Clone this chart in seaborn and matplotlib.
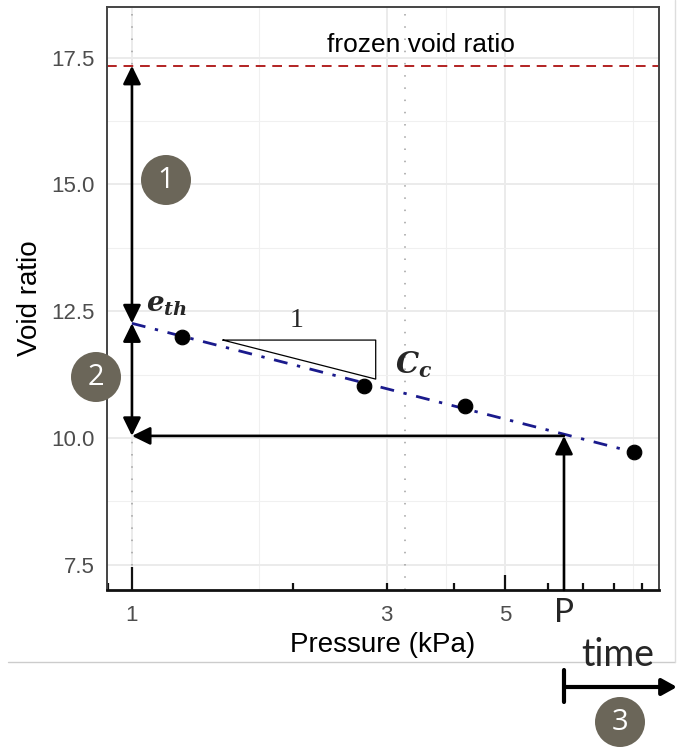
import matplotlib
matplotlib.use("Agg")
import numpy as np
import pandas as pd
import seaborn as sns
import matplotlib.pyplot as plt
import matplotlib.transforms as mtransforms
from matplotlib.patches import Circle
from matplotlib.lines import Line2D

# ---- data ----
pressure = [1.24, 2.72, 4.2, 8.7]          # kPa
void_ratio = [12.0, 11.02, 10.63, 9.72]
fit_pressure = [1.0, 8.7]                  # dash-dot fitted line ends
fit_void = [12.26, 9.72]
frozen_void = 17.34
e_th = 12.26
p_value = 6.44
e_at_p = 10.04
ref_lines = [1.0, 3.25]                    # grey dotted verticals
x_breaks = [1, 3, 5]
x_minor = [1.73, 3.87, 8.66]
y_breaks = [7.5, 10.0, 12.5, 15.0, 17.5]
y_minor = [8.75, 11.25, 13.75, 16.25]
log_ticks = [0.9, 1, 2, 3, 4, 5, 6, 7, 8, 9]

df = pd.DataFrame({"pressure": pressure, "void": void_ratio})
fit = pd.DataFrame({"pressure": fit_pressure, "void": fit_void})

sns.set_theme(style="white")
plt.rcParams["font.family"] = ["Liberation Sans", "DejaVu Sans"]
plt.rcParams["mathtext.fontset"] = "dejavuserif"

fig = plt.figure(figsize=(6.77, 7.47), dpi=100)
ax = fig.add_axes([107 / 677, 1 - 590 / 747, 552 / 677, 583 / 747])

ax.set_xscale("log")
ax.set_xlim(0.898, 9.7)
ax.set_ylim(7.0, 18.5)

# grid like theme_bw
ax.set_xticks(x_breaks)
ax.set_xticklabels([str(b) for b in x_breaks])
ax.set_xticks(x_minor, minor=True)
ax.set_yticks(y_breaks)
ax.set_yticklabels([f"{b:.1f}" for b in y_breaks])
ax.set_yticks(y_minor, minor=True)
ax.grid(which="major", color="#ebebeb", lw=1.4)
ax.grid(which="minor", color="#f0f0f0", lw=0.8)
ax.set_axisbelow(True)
ax.tick_params(which="minor", length=0)
ax.tick_params(which="major", direction="out", length=5, width=1.2,
               color="#333333", labelcolor="#4d4d4d", labelsize=16, pad=4)
ax.tick_params(axis="x", which="major", length=5, width=1.6, color="black", pad=6)

for side in ["top", "right", "left"]:
    ax.spines[side].set_color("#444444")
    ax.spines[side].set_linewidth(1.4)
ax.spines["bottom"].set_color("#111111")
ax.spines["bottom"].set_linewidth(2)

# log ticks inside the bottom axis
xt = ax.get_xaxis_transform()
tick_len = [0.012 if t not in (1, 5) else (0.0395 if t == 1 else 0.026) for t in log_ticks]
ax.vlines(log_ticks, 0, tick_len, transform=xt, color="#111111", lw=1.6, clip_on=False)

# reference lines
for xv in ref_lines:
    ax.axvline(xv, color="#a0a0a0", lw=1.1, ls=(0, (1, 7)), zorder=1)
ax.axhline(frozen_void, color="#b22222", lw=1.4, ls=(0, (5, 3.5)), zorder=2)
ax.text(3.48, 17.76, "frozen void ratio", fontsize=19, ha="center", va="center", color="black")

# fitted line and points
sns.lineplot(data=fit, x="pressure", y="void", ax=ax, color="#1a1a8c", lw=2,
             dashes=False, zorder=3)
ax.lines[-1].set_dashes((5, 3.5, 1.2, 3.5))
sns.scatterplot(data=df, x="pressure", y="void", ax=ax, color="black", s=110,
                edgecolor="black", zorder=5)

# slope triangle
tx = [1.48, 2.86, 2.86, 1.48]
ty = [11.93, 11.93, 11.16, 11.93]
ax.plot(tx, ty, color="black", lw=0.9, zorder=4)
ax.text(2.036, 12.32, "1", fontsize=20, family="Liberation Serif", ha="center", va="center")
ax.text(3.11, 11.44, r"$\mathbfit{C}_{\mathbfit{c}}$", fontsize=21, ha="left", va="center")
ax.text(1.163, 12.62, r"$\mathbfit{e}_{\mathbfit{th}}$", fontsize=20, ha="center", va="center")

# arrows
arr = dict(lw=1.9, color="black", shrinkA=0, shrinkB=0, mutation_scale=20)
head2 = "<|-|>,head_length=0.55,head_width=0.27"
head1 = "-|>,head_length=0.55,head_width=0.27"
ax.annotate("", xy=(1, frozen_void), xytext=(1, e_th),
            arrowprops=dict(arrowstyle=head2, **arr), zorder=6)
ax.annotate("", xy=(1, e_at_p), xytext=(1, e_th),
            arrowprops=dict(arrowstyle=head2, **arr), zorder=6)
ax.annotate("", xy=(1, e_at_p), xytext=(p_value, e_at_p),
            arrowprops=dict(arrowstyle=head1, **arr), zorder=6)
ax.annotate("", xy=(p_value, e_at_p), xytext=(p_value, 0), textcoords=xt,
            arrowprops=dict(arrowstyle=head1, **arr), zorder=6)

ax.set_xlabel("Pressure (kPa)", fontsize=20, color="black")
ax.set_ylabel("Void ratio", fontsize=20, color="black")
ax.xaxis.set_label_coords(0.5, -0.094)
ax.xaxis.label.set_va("center")
ax.yaxis.set_label_coords(-0.14, 0.5)
ax.yaxis.label.set_va("center")

ax.text(p_value, -0.040, "P", transform=xt, fontsize=24, family=["Lato", "DejaVu Sans"],
        ha="center", va="center")

# numbered circles (figure inches)
inch = fig.dpi_scale_trans
for (cx, cy, lab) in [(1.66, 5.67, "1"), (0.96, 3.70, "2"), (6.20, 0.25, "3")]:
    fig.add_artist(Circle((cx, cy), 0.25, transform=inch, facecolor="#6b6659",
                          edgecolor="none", zorder=10))
    fig.text(cx, cy - 0.01, lab, transform=inch, fontsize=21, color="white",
             ha="center", va="center", family=["Open Sans", "DejaVu Sans"], zorder=11)

# time arrow below the plot
bt = mtransforms.blended_transform_factory(ax.transData, inch)
fig.text(6.18, 0.92, "time", transform=inch, fontsize=27, family=["Lato", "DejaVu Sans"],
         ha="center", va="center")
ax.annotate("", xy=(6.77, 0.60), xycoords=inch, xytext=(p_value, 0.60), textcoords=bt,
            arrowprops=dict(arrowstyle="-|>,head_length=0.45,head_width=0.25", lw=3,
                            color="black", shrinkA=0, shrinkB=0, mutation_scale=20))
fig.add_artist(Line2D([p_value, p_value], [0.45, 0.77], transform=bt, color="black", lw=3))

# page edge lines from the source image
fig.add_artist(Line2D([0.08, 6.75], [0.85, 0.85], transform=inch, color="#cccccc", lw=1))
fig.add_artist(Line2D([6.75, 6.75], [0.85, 7.47], transform=inch, color="#dddddd", lw=1))

fig.savefig("out.png", dpi=100)
